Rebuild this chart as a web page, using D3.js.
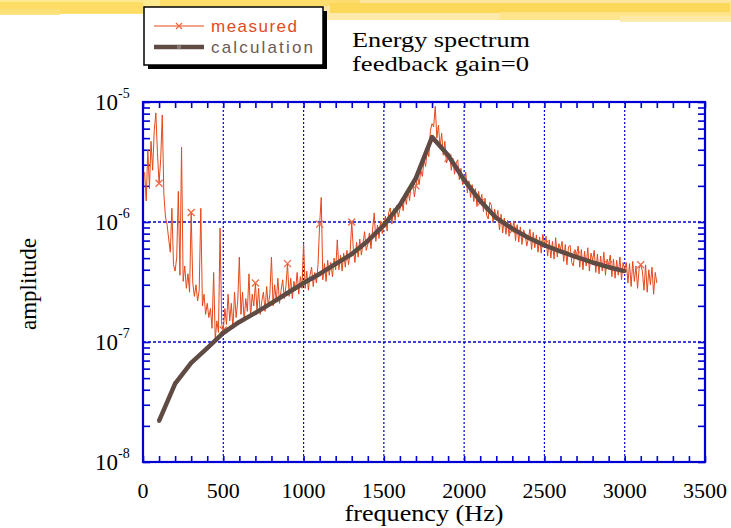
<!DOCTYPE html>
<html>
<head>
<meta charset="utf-8">
<script src="https://cdn.jsdelivr.net/npm/d3@7"></script>
<style>
  body { margin: 0; background: #fff; }
  svg { display: block; }
</style>
</head>
<body>
<script>
// measured spectrum, 10 Hz steps from 10 Hz to 3200 Hz, amplitude in units of 1e-7
var measuredStartHz = 10, measuredStepHz = 10;
var measuredAmp = [
  26, 15, 40, 19, 47, 27, 58, 81, 38, 21,
  33, 78, 17, 11, 9.5, 7.2, 5.6, 13, 4.4, 3.9,
  5.1, 18, 3.6, 42, 3.2, 4.3, 2.8, 3.7, 2.6, 12,
  3.1, 2.4, 3.0, 2.2, 2.7, 13, 2.0, 2.5, 1.7, 2.1,
  1.6, 1.9, 1.3, 3.8, 1.05, 1.5, 1.2, 8.9, 1.4, 1.26,
  1.9, 1.4, 2.5, 1.5, 2.1, 1.3, 2.6, 1.6, 2.2, 5.1,
  1.7, 2.6, 1.5, 2.3, 1.8, 3.7, 1.6, 2.5, 2.0, 3.1,
  1.8, 2.8, 1.7, 2.2, 2.6, 1.8, 2.9, 2.0, 2.5, 5.1,
  2.0, 3.0, 2.2, 3.4, 2.1, 2.7, 3.3, 2.3, 2.9, 4.5,
  2.4, 3.4, 2.3, 3.2, 2.7, 3.8, 2.5, 3.5, 2.8, 6.6,
  2.8, 3.9, 2.7, 3.6, 4.2, 2.9, 3.8, 3.1, 4.4, 9.6,
  16, 3.3, 4.5, 3.2, 4.8, 3.6, 4.6, 3.5, 5.0, 4.0,
  7.1, 4.0, 5.3, 3.9, 5.5, 4.2, 5.8, 4.4, 5.6, 10,
  5.9, 4.6, 6.8, 5.1, 7.2, 5.3, 6.6, 8.3, 5.8, 6.5,
  8.1, 6.0, 8.7, 11.9, 6.9, 9.4, 7.3, 10.2, 8.0, 9.5,
  11.2, 8.4, 12.0, 13.1, 9.6, 12.9, 10.3, 13.8, 11.0, 12.7,
  15.8, 12.4, 17.0, 14.0, 18.6, 15.1, 20.5, 22.0, 16.2, 20,
  24, 20.5, 27, 24, 33, 29, 40, 35, 58, 66,
  62, 92, 50, 64, 42, 55, 36, 47, 31, 34,
  37, 27, 34, 25, 31, 33, 22.5, 28, 20.5, 21,
  26, 17.5, 22, 16, 20.5, 14.8, 19, 13.5, 18, 14.5,
  17, 12.2, 15.8, 11.4, 10.6, 14.6, 13.8, 9.9, 12.8, 10.6,
  12.5, 8.6, 11.6, 8.1, 10.8, 7.9, 10.3, 7.6, 9.9, 8.5,
  10.2, 7.0, 9.5, 6.8, 9.1, 6.5, 8.6, 7.9, 6.3, 7.3,
  8.7, 5.9, 8.2, 6.1, 7.8, 5.6, 7.5, 5.5, 7.9, 6.5,
  7.6, 5.2, 7.1, 5.0, 6.9, 4.9, 7.4, 5.1, 6.6, 5.9,
  6.9, 4.7, 6.5, 4.4, 6.2, 6.4, 4.6, 4.3, 5.9, 5.3,
  6.3, 4.2, 5.9, 4.0, 5.7, 4.3, 6.1, 3.9, 5.5, 4.8,
  5.8, 3.8, 5.4, 3.7, 5.2, 3.9, 5.6, 3.6, 4.9, 4.4,
  5.3, 3.5, 4.9, 3.4, 4.8, 3.6, 5.1, 3.3, 4.6, 4.0,
  4.6, 3.1, 4.5, 2.9, 4.7, 3.2, 4.3, 2.8, 4.1, 4.4,
  3.9, 2.7, 4.4, 2.6, 4.0, 3.0, 4.2, 2.5, 3.8, 3.1
];

// calculation, amplitude in units of 1e-7
var calcHz = [100, 200, 300, 400, 500, 600, 700, 800, 900, 1000, 1100, 1200, 1300, 1400, 1500,
              1600, 1700, 1800, 1900, 2000, 2100, 2200, 2300, 2400, 2500, 2600, 2700, 2800, 2900, 3000];
var calcAmp = [0.22, 0.45, 0.67, 0.89, 1.19, 1.47, 1.75, 2.11, 2.56, 3.1, 3.69, 4.47, 5.4, 6.95, 9.4,
               13.9, 23.3, 51, 36, 22.4, 15, 10.8, 8.8, 7.4, 6.4, 5.7, 5.1, 4.6, 4.2, 3.9];

var xTicks = [0, 500, 1000, 1500, 2000, 2500, 3000, 3500];
var yTickExp = [-8, -7, -6, -5];
var seriesNames = ["measured", "calculation"];

var unit = 1e-7;
var width = 731, height = 528;
var plotL = 143, plotR = 705, plotT = 102, plotB = 462;

var measured = measuredAmp.map(function(d, i) {
  return { hz: measuredStartHz + i * measuredStepHz, v: d * unit };
});
var calc = calcHz.map(function(d, i) { return { hz: d, v: calcAmp[i] * unit }; });

var svg = d3.select("body").append("svg")
            .attr("width", width)
            .attr("height", height);

// yellow brushed banner along the top
var banner = svg.append("g");
var strokes = [
  [0, 0, 731, 13, "#fde98f", 1],
  [0, 2, 143, 12, "#fcd95a", 0.8],
  [0, 9, 60, 6, "#fbe27a", 0.9],
  [320, 0, 411, 20, "#fde7a0", 0.9],
  [330, 3, 400, 10, "#fcd54e", 0.85],
  [500, 12, 231, 8, "#fde38a", 0.9],
  [620, 16, 111, 6, "#fce9a8", 0.9],
  [160, 0, 200, 6, "#fcd95a", 0.7]
];
banner.selectAll("rect").data(strokes).enter().append("rect")
      .attr("x", function(d) { return d[0]; })
      .attr("y", function(d) { return d[1]; })
      .attr("width", function(d) { return d[2]; })
      .attr("height", function(d) { return d[3]; })
      .style("fill", function(d) { return d[4]; })
      .style("opacity", function(d) { return d[5]; });

var x = d3.scaleLinear().domain([0, 3500]).range([plotL, plotR]);
var y = d3.scaleLog().domain([1e-8, 1e-5]).range([plotB, plotT]);

var blue = "#0000d4";

// grid
svg.append("g").selectAll("line").data(xTicks.slice(1, -1)).enter().append("line")
   .attr("x1", function(d) { return x(d); }).attr("x2", function(d) { return x(d); })
   .attr("y1", plotT).attr("y2", plotB)
   .style("stroke", blue).style("stroke-width", 1.2).style("stroke-dasharray", "2,2");
svg.append("g").selectAll("line").data([1e-7, 1e-6]).enter().append("line")
   .attr("x1", plotL).attr("x2", plotR)
   .attr("y1", function(d) { return y(d); }).attr("y2", function(d) { return y(d); })
   .style("stroke", blue).style("stroke-width", 1.6).style("stroke-dasharray", "3,2");

// ticks, pointing inward on all four sides
var minorX = d3.range(0, 3501, 100);
var minorY = [];
[-8, -7, -6].forEach(function(e) {
  for (var k = 1; k < 10; k++) minorY.push(k * Math.pow(10, e));
});
minorY.push(1e-5);

svg.append("g").attr("transform", "translate(0," + plotB + ")")
   .call(d3.axisBottom(x).tickValues(minorX).tickSizeInner(-6).tickSizeOuter(0).tickFormat(""));
svg.append("g").attr("transform", "translate(0," + plotT + ")")
   .call(d3.axisTop(x).tickValues(minorX).tickSizeInner(-6).tickSizeOuter(0).tickFormat(""));
svg.append("g").attr("transform", "translate(" + plotL + ",0)")
   .call(d3.axisLeft(y).tickValues(minorY).tickSizeInner(-7).tickSizeOuter(0).tickFormat(""));
svg.append("g").attr("transform", "translate(" + plotR + ",0)")
   .call(d3.axisRight(y).tickValues(minorY).tickSizeInner(-7).tickSizeOuter(0).tickFormat(""));

svg.selectAll(".tick line").style("stroke", blue).style("stroke-width", 1.6);
svg.selectAll(".domain").remove();

// frame
svg.append("rect")
   .attr("x", plotL).attr("y", plotT)
   .attr("width", plotR - plotL).attr("height", plotB - plotT)
   .style("fill", "none").style("stroke", blue).style("stroke-width", 2.2);

// tick labels
svg.append("g").selectAll("text").data(xTicks).enter().append("text")
   .attr("x", function(d) { return x(d); })
   .attr("y", 498)
   .attr("text-anchor", "middle")
   .style("font-family", "'Liberation Serif', 'Times New Roman', serif")
   .style("font-size", "22px")
   .text(function(d) { return d; });

var yLab = svg.append("g").selectAll("text").data(yTickExp).enter().append("text")
   .attr("x", 95)
   .attr("y", function(d) { return y(Math.pow(10, d)) + 8; })
   .style("font-family", "'Liberation Serif', 'Times New Roman', serif")
   .style("font-size", "23px");
yLab.append("tspan").text("10");
yLab.append("tspan").attr("dy", -12).style("font-size", "14px").text(function(d) { return d; });

// axis titles
svg.append("text")
   .attr("x", 424).attr("y", 521)
   .attr("text-anchor", "middle")
   .attr("textLength", 159).attr("lengthAdjust", "spacingAndGlyphs")
   .style("font-family", "'Liberation Serif', 'Times New Roman', serif")
   .style("font-size", "23px")
   .text("frequency (Hz)");
svg.append("text")
   .attr("transform", "translate(36,284) rotate(-90)")
   .attr("text-anchor", "middle")
   .style("font-family", "'Liberation Serif', 'Times New Roman', serif")
   .style("font-size", "23px")
   .text("amplitude");

// title
svg.append("text")
   .attr("x", 352).attr("y", 47)
   .attr("textLength", 178).attr("lengthAdjust", "spacingAndGlyphs")
   .style("font-family", "'Liberation Serif', 'Times New Roman', serif")
   .style("font-size", "22px")
   .text("Energy spectrum");
svg.append("text")
   .attr("x", 352).attr("y", 71)
   .attr("textLength", 177).attr("lengthAdjust", "spacingAndGlyphs")
   .style("font-family", "'Liberation Serif', 'Times New Roman', serif")
   .style("font-size", "22px")
   .text("feedback gain=0");

// data
var measColor = "#e4481a";
var calcColor = "#5f4a44";

var line = d3.line()
             .x(function(d) { return x(d.hz); })
             .y(function(d) { return y(d.v); });

svg.append("path")
   .datum(measured)
   .attr("d", line)
   .style("fill", "none")
   .style("stroke", measColor)
   .style("stroke-width", 1)
   .style("stroke-linejoin", "round");

function cross(sel, s) {
  sel.append("path")
     .attr("d", "M" + (-s) + "," + (-s) + "L" + s + "," + s + "M" + (-s) + "," + s + "L" + s + "," + (-s))
     .style("stroke", "#ec6a45")
     .style("stroke-width", 1.3)
     .style("fill", "none");
}

var marks = svg.append("g").selectAll("g")
   .data(measured.filter(function(d) { return d.hz % 200 === 100; }))
   .enter().append("g")
   .attr("transform", function(d) { return "translate(" + x(d.hz) + "," + y(d.v) + ")"; });
cross(marks, 3.5);

svg.append("path")
   .datum(calc)
   .attr("d", line)
   .style("fill", "none")
   .style("stroke", calcColor)
   .style("stroke-width", 4.5)
   .style("stroke-linejoin", "round");

// point markers of the calculation, hidden under the thick line as in the original
svg.append("g").selectAll("circle").data(calc).enter().append("circle")
   .attr("cx", function(d) { return x(d.hz); })
   .attr("cy", function(d) { return y(d.v); })
   .attr("r", 2)
   .style("fill", calcColor);

// legend
var lg = svg.append("g");
lg.append("rect").attr("x", 148).attr("y", 11).attr("width", 179).attr("height", 58).style("fill", "#000");
lg.append("rect").attr("x", 144).attr("y", 7).attr("width", 179).attr("height", 58)
  .style("fill", "#fff").style("stroke", "#000").style("stroke-width", 1.5);

var legendRows = [
  { name: seriesNames[0], color: measColor, w: 1.2, y: 26, len: 86 },
  { name: seriesNames[1], color: calcColor, w: 4.5, y: 47, len: 102 }
];
var rows = lg.selectAll("g.row").data(legendRows).enter().append("g").attr("class", "row");
rows.append("line")
    .attr("x1", 154).attr("x2", 204)
    .attr("y1", function(d) { return d.y; }).attr("y2", function(d) { return d.y; })
    .style("stroke", function(d) { return d.color; })
    .style("stroke-width", function(d) { return d.w; });
rows.append("text")
    .attr("x", 211)
    .attr("y", function(d) { return d.y + 6; })
    .attr("textLength", function(d) { return d.len; })
    .attr("lengthAdjust", "spacing")
    .style("font-family", "'Liberation Sans', Arial, sans-serif")
    .style("font-size", "17px")
    .style("fill", function(d) { return d.name === "measured" ? "#e04a1e" : "#6e5a55"; })
    .text(function(d) { return d.name; });
var lm = lg.append("g").attr("transform", "translate(179,26)");
cross(lm, 3);
lg.append("circle").attr("cx", 179).attr("cy", 47).attr("r", 2.2).style("fill", "#8a7a74");
</script>
</body>
</html>
